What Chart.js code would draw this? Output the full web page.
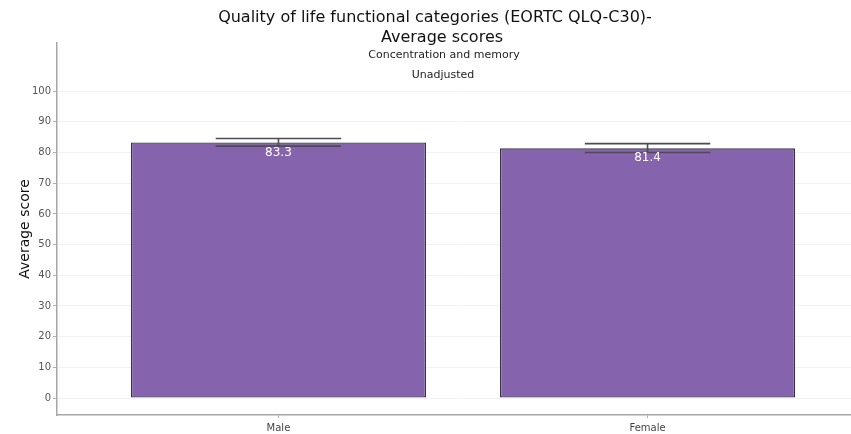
<!DOCTYPE html>
<html>
<head>
<meta charset="utf-8">
<script src="https://cdn.jsdelivr.net/npm/chart.js@4/dist/chart.umd.min.js"></script>
<style>
  html, body { margin: 0; padding: 0; overflow: hidden; background: #fff; }
  canvas { display: block; }
</style>
</head>
<body>
<canvas id="chart" width="869" height="434"></canvas>
<script>
// Concentration and memory, unadjusted average scores by sex
const categories = ['Male', 'Female'];
const averageScores = [83.3, 81.4];
const ciLower = [82.1, 80.0];
const ciUpper = [84.6, 82.9];
const yTicks = [0, 10, 20, 30, 40, 50, 60, 70, 80, 90, 100];

const titleLines = ['Quality of life functional categories (EORTC QLQ-C30)-', 'Average scores'];
const subtitleLines = ['Concentration and memory', 'Unadjusted'];

const FONT = "'DejaVu Sans', Verdana, sans-serif";

// Headings drawn over the top of the panel
const headingPlugin = {
  id: 'headings',
  afterDraw(chart) {
    const ctx = chart.ctx;
    ctx.save();
    ctx.fillStyle = '#111';
    ctx.textAlign = 'center';
    ctx.textBaseline = 'middle';
    ctx.font = '16px ' + FONT;
    ctx.fillText(titleLines[0], 435, 18);
    ctx.fillText(titleLines[1], 442, 38);
    ctx.font = '11px ' + FONT;
    ctx.fillStyle = '#222';
    ctx.fillText(subtitleLines[0], 444, 55);
    ctx.fillText(subtitleLines[1], 443, 75);
    ctx.restore();
  }
};

// Confidence whiskers and value labels
const errorBarPlugin = {
  id: 'errorBars',
  afterDatasetsDraw(chart) {
    const ctx = chart.ctx;
    const xs = chart.scales.x;
    const ys = chart.scales.y;
    ctx.save();
    categories.forEach((c, i) => {
      const xc = xs.getPixelForValue(i + 1);
      const half = (xs.getPixelForValue(1.17) - xs.getPixelForValue(1));
      const yl = ys.getPixelForValue(ciLower[i]);
      const yh = ys.getPixelForValue(ciUpper[i]);
      ctx.strokeStyle = '#4d4d4d';
      ctx.lineWidth = 1.6;
      ctx.beginPath();
      ctx.moveTo(xc - half, yh); ctx.lineTo(xc + half, yh);
      ctx.moveTo(xc - half, yl); ctx.lineTo(xc + half, yl);
      ctx.moveTo(xc, yh); ctx.lineTo(xc, yl);
      ctx.stroke();

      const yv = ys.getPixelForValue(averageScores[i]);
      ctx.fillStyle = '#ffffff';
      ctx.font = '12px ' + FONT;
      ctx.textAlign = 'center';
      ctx.textBaseline = 'middle';
      ctx.fillText(averageScores[i].toFixed(1), xc, yv + 10);
    });
    ctx.restore();
  }
};

new Chart(document.getElementById('chart'), {
  type: 'bar',
  data: {
    datasets: [{
      data: categories.map((c, i) => ({ x: i + 1, y: averageScores[i] })),
      backgroundColor: '#8663ad',
      borderColor: '#3a3148',
      borderWidth: 1.4,
      borderSkipped: false,
      categoryPercentage: 1,
      barPercentage: 0.8
    }]
  },
  options: {
    responsive: false,
    animation: false,
    layout: { padding: { top: 43, right: 0, left: 17, bottom: 0 } },
    plugins: {
      legend: { display: false },
      tooltip: { enabled: false },
      title: { display: false }
    },
    scales: {
      x: {
        type: 'linear',
        min: 0.4,
        max: 2.6,
        offset: false,
        afterBuildTicks(scale) {
          scale.ticks = categories.map((c, i) => ({ value: i + 1 }));
        },
        afterFit(scale) { scale.height = 19; },
        ticks: {
          callback: (v) => categories[v - 1] || '',
          color: '#444',
          font: { family: FONT, size: 10 },
          padding: 4,
          maxRotation: 0,
          autoSkip: false
        },
        grid: {
          display: true,
          offset: false,
          drawOnChartArea: false,
          drawTicks: true,
          tickLength: 3,
          color: '#b0b0b0'
        },
        border: { display: true, color: '#a6a6a6', width: 1.5 }
      },
      y: {
        min: -5.53,
        max: 115.7,
        afterBuildTicks(scale) {
          scale.ticks = yTicks.map(v => ({ value: v }));
        },
        afterFit(scale) { scale.width = 40; },
        ticks: {
          color: '#555',
          font: { family: FONT, size: 10 },
          padding: 2
        },
        grid: {
          color: '#f2f2f2',
          tickColor: '#b0b0b0',
          tickLength: 4,
          lineWidth: 1
        },
        border: { display: true, color: '#a6a6a6', width: 1.5 },
        title: {
          display: true,
          text: 'Average score',
          color: '#111',
          font: { family: FONT, size: 14 },
          padding: { top: 0, bottom: 8 }
        }
      }
    }
  },
  plugins: [headingPlugin, errorBarPlugin]
});
</script>
</body>
</html>
